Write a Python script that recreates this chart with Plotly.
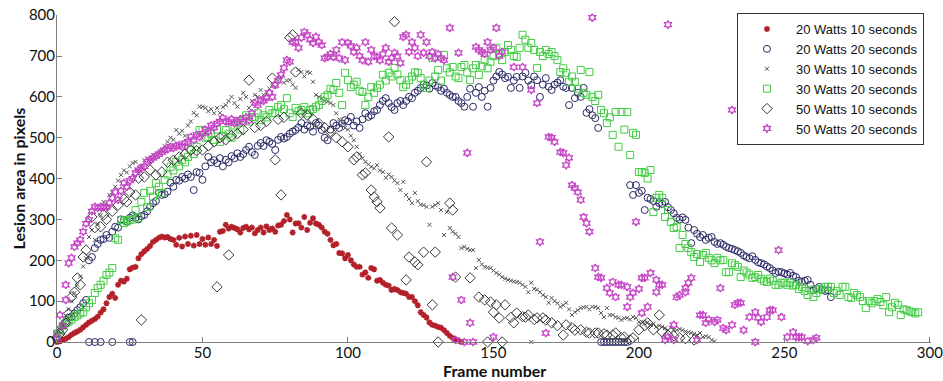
import plotly.graph_objects as go

# ---------------- data ----------------
series_names = ["20 Watts 10 seconds", "20 Watts 20 seconds", "30 Watts 10 seconds",
                "30 Watts 20 seconds", "50 Watts 10 seconds", "50 Watts 20 seconds"]

x_ticks = [0, 50, 100, 150, 200, 250, 300]
y_ticks = [0, 100, 200, 300, 400, 500, 600, 700, 800]

x_title = "Frame number"
y_title = "Lesion area in pixels"

# 20 W 10 s, frames 0..139
w20s10_start = 0
w20s10_area = [
    0, 2, 5, 8, 12, 18, 22, 26, 30, 36,
    42, 48, 52, 56, 62, 72, 80, 95, 110, 118,
    108, 140, 150, 148, 155, 178, 182, 184, 205, 215,
    222, 228, 235, 245, 250, 255, 258, 256, 257, 252,
    250, 238, 255, 234, 258, 240, 260, 236, 262, 240,
    252, 238, 256, 240, 250, 235, 270, 272, 287, 278,
    282, 279, 276, 268, 279, 282, 276, 280, 266, 274,
    280, 268, 283, 274, 278, 270, 285, 287, 296, 311,
    300, 268, 290, 291, 280, 306, 274, 292, 303, 290,
    287, 280, 270, 265, 250, 237, 240, 218, 217, 205,
    213, 200, 190, 184, 184, 165, 170, 157, 181, 178,
    150, 152, 145, 140, 138, 127, 130, 127, 122, 120,
    118, 110, 110, 100, 90, 73, 66, 60, 48, 42,
    40, 37, 35, 29, 22, 15, 10, 5, 3, 0]

# 20 W 20 s, frames 0..266
w20s20_start = 0
w20s20_area = [
    20, 30, 40, 50, 59, 62, 70, 78, 85, 95,
    103, 200, 208, 230, 240, 250, 252, 262, 255, 270,
    282, 280, 300, 299, 295, 304, 310, 304, 300, 308,
    311, 320, 331, 340, 345, 365, 360, 362, 368, 390,
    380, 397, 395, 404, 400, 410, 404, 372, 416, 414,
    397, 430, 453, 440, 445, 438, 450, 430, 446, 440,
    455, 450, 462, 453, 460, 470, 478, 465, 458, 480,
    487, 480, 494, 490, 485, 470, 495, 502, 498, 502,
    510, 515, 519, 525, 536, 520, 530, 527, 515, 536,
    530, 519, 500, 494, 520, 536, 530, 524, 535, 543,
    540, 551, 530, 540, 524, 545, 560, 551, 555, 565,
    568, 580, 590, 597, 585, 575, 568, 585, 590, 580,
    590, 600, 597, 610, 615, 622, 630, 628, 620, 634,
    628, 624, 615, 620, 610, 605, 600, 600, 590, 585,
    576, 600, 620, 576, 610, 624, 600, 615, 576, 622,
    640, 650, 661, 655, 646, 649, 622, 640, 649, 622,
    650, 659, 640, 629, 650, 641, 600, 630, 646, 625,
    617, 630, 635, 641, 625, 622, 580, 622, 597, 610,
    600, 622, 561, 570, 555, 548, 524,
    0, 0, 0, 0, 0, 0, 0, 0, 0, 0,
    384, 360, 384, 365, 370, 323, 353, 350, 345, 331, 340, 338, 343,
    330, 323, 315, 304, 300, 305, 299, 280, 242, 274,
    265, 257, 262, 250, 255, 257, 245, 240, 242, 238,
    233, 230, 228, 225, 222, 218, 212, 208, 205, 210,
    201, 195, 193, 190, 185, 181, 175, 169, 172, 171,
    168, 165, 169, 162, 159, 150, 147, 150, 152, 140,
    127, 130, 135, 128, 125, 127, 110]
w20s20_extra_frame = [11, 13, 15, 19, 25, 26]
w20s20_extra_area = [0, 0, 0, 0, 0, 0]

# 30 W 10 s, frames 0..226
w30s10_start = 0
w30s10_area = [
    25, 35, 50, 65, 80, 100, 120, 140, 160, 185,
    205, 257, 274, 250, 290, 310, 343, 330, 360, 367,
    380, 395, 409, 420, 415, 430, 438, 441, 420, 430,
    445, 450, 440, 458, 455, 463, 470, 480, 490, 500,
    495, 519, 510, 517, 505, 530, 540, 561, 555, 576,
    576, 573, 565, 570, 560, 573, 561, 575, 580, 590,
    600, 585, 576, 595, 610, 600, 573, 590, 605, 600,
    617, 605, 612, 620, 630, 625, 640, 649, 635, 640,
    641, 630, 622, 666, 661, 650, 661, 659, 637, 605,
    600, 597, 590, 588, 585, 580, 560, 545, 535, 524,
    520, 505, 494, 478, 460, 450, 441, 435, 429, 425,
    433, 420, 416, 402, 410, 404, 395, 389, 372, 392,
    360, 350, 340, 365, 345, 336, 335, 331, 287, 331,
    335, 340, 323, 262, 318, 279, 270, 265, 257, 230,
    233, 228, 225, 225, 181, 201, 190, 184, 182, 181,
    175, 169, 165, 159, 155, 152, 150, 148, 147, 145,
    140, 135, 122, 145, 130, 128, 122, 115, 110, 96,
    108, 100, 95, 86, 90, 96, 80, 66, 73, 78,
    83, 85, 86, 80, 86, 86, 83, 71, 61, 83,
    66, 66, 61, 59, 54, 58, 59, 55, 61, 59,
    49, 50, 45, 48, 42, 45, 37, 40, 37, 34,
    29, 35, 30, 29, 32, 29, 26, 24, 22, 20,
    17, 22, 12, 14, 12, 5, 2]
w30s10_extra_frame = [163]
w30s10_extra_area = [0]

# 30 W 20 s, frames 0..296
w30s20_start = 0
w30s20_area = [
    20, 30, 40, 46, 50, 55, 61, 65, 70, 73,
    85, 95, 103, 120, 132, 140, 150, 164, 170, 181,
    254, 250, 299, 291, 295, 299, 300, 323, 304, 343,
    365, 330, 370, 356, 389, 380, 365, 397, 410, 429,
    420, 441, 430, 446, 440, 453, 470, 460, 478, 519,
    519, 500, 502, 510, 495, 520, 490, 505, 519, 510,
    500, 530, 540, 520, 545, 555, 540, 551, 550, 560,
    543, 555, 550, 568, 560, 561, 575, 580, 570, 597,
    560, 551, 573, 565, 568, 575, 560, 568, 570, 576,
    580, 590, 600, 605, 620, 617, 634, 610, 580, 659,
    641, 624, 630, 637, 615, 612, 580, 600, 624, 610,
    622, 630, 654, 640, 659, 650, 671, 655, 641, 624,
    630, 641, 650, 660, 659, 646, 630, 622, 640, 695,
    650, 666, 640, 703, 670, 660, 673, 650, 646, 673,
    678, 660, 641, 670, 678, 654, 675, 690, 670, 686,
    700, 720, 705, 690, 710, 727, 715, 700, 698, 720,
    752, 740, 720, 732, 715, 671, 710, 700, 715, 705,
    710, 700, 690, 661, 670, 659, 637, 650, 637, 620,
    666, 610, 605, 661, 600, 590, 605, 568, 560, 536,
    550, 507, 563, 478, 563, 520, 563, 458, 512, 507,
    416, 416, 414, 400, 421, 318, 353, 360, 353, 306,
    323, 294, 279, 282, 230, 262, 240, 230, 220, 208,
    215, 196, 213, 218, 206, 200, 193, 206, 200, 201,
    171, 171, 193, 188, 184, 159, 175, 170, 165, 157,
    159, 164, 155, 150, 147, 155, 150, 140, 140, 145,
    145, 140, 145, 138, 140, 130, 135, 125, 115, 128,
    110, 120, 130, 128, 135, 135, 135, 120, 125, 115,
    135, 135, 110, 108, 120, 115, 110, 100, 83, 100,
    95, 100, 105, 98, 90, 110, 73, 85, 96, 91,
    66, 80, 78, 75, 73, 70, 73]

# 50 W 10 s (irregular frames)
w50s10_frame = [0, 1, 2, 3, 4, 5, 6, 7, 8, 9, 10, 12, 13, 15, 16, 17, 19, 21, 23, 24,
                25, 27, 28, 29, 30, 32, 34, 36, 38, 40, 42, 44, 46, 48, 50, 52, 54, 55, 56, 58,
                59, 60, 62, 64, 66, 68, 70, 72, 74, 75, 76, 77, 78, 80, 81, 82, 84, 86, 88, 90,
                92, 94, 96, 98, 100, 102, 103, 105, 106, 108, 109, 110, 111, 114, 115, 116, 117, 120, 121, 123,
                124, 126, 127, 129, 130, 131, 135, 136, 137, 142, 145, 147, 148, 149, 150, 151, 152, 153, 154, 156,
                157, 158, 160, 161, 162, 164, 165, 167, 168, 170, 172, 174, 175, 177, 178, 180, 182, 183, 185, 186,
                188, 189, 191, 192, 194, 195, 197, 198, 200, 202, 203, 205, 207, 208, 210, 212, 214, 216, 219]
w50s10_area = [10, 20, 30, 46, 70, 110, 122, 157, 140, 208, 225, 306, 280, 282, 311, 300, 320, 335, 350, 343,
               367, 360, 401, 54, 404, 421, 409, 416, 440, 445, 453, 460, 470, 468, 470, 480, 490, 135, 500, 495,
               213, 505, 510, 520, 641, 525, 530, 540, 646, 446, 545, 360, 550, 745, 752, 661, 560, 555, 545, 535,
               525, 515, 500, 490, 478, 446, 453, 409, 414, 372, 355, 343, 328, 502, 279, 784, 262, 152, 208, 196,
               189, 220, 441, 91, 220, 0, 340, 323, 159, 157, 110, 103, 0, 98, 73, 91, 59, 0, 91, 60,
               47, 71, 62, 61, 66, 55, 59, 59, 54, 47, 40, 17, 42, 35, 29, 30, 24, 22, 22, 22,
               20, 17, 17, 22, 10, 12, 5, 10, 30, 40, 47, 30, 66, 25, 17, 15, 10, 8, 5]

# 50 W 20 s (irregular frames)
w50s20_frame = [0, 1, 2, 3, 3, 4, 5, 6, 7, 8, 9, 10, 11, 12, 13, 14, 15, 16, 17, 18,
                19, 20, 21, 22, 23, 24, 25, 26, 27, 28, 29, 30, 31, 32, 33, 34, 35, 36, 37, 38,
                39, 40, 41, 42, 43, 44, 45, 46, 47, 48, 49, 50, 51, 52, 53, 54, 55, 56, 57, 58,
                59, 60, 61, 62, 63, 64, 65, 66, 67, 68, 69, 70, 71, 72, 73, 74, 75, 76, 77, 78,
                79, 80, 81, 82, 83, 84, 85, 86, 87, 88, 89, 90, 91, 92, 93, 94, 95, 96, 97, 98,
                99, 100, 101, 102, 103, 104, 105, 106, 107, 108, 109, 110, 111, 112, 113, 114, 115, 116, 117, 118,
                119, 120, 121, 122, 123, 124, 125, 126, 127, 128, 129, 130, 131, 132, 133, 135, 136, 137, 138, 139,
                140, 141, 142, 143, 144, 145, 146, 147, 148, 149, 150, 150, 151, 152, 153, 157, 160, 163, 165, 166,
                168, 169, 170, 171, 173, 174, 175, 176, 177, 178, 179, 180, 181, 182, 183, 184, 185, 186, 187, 189,
                190, 191, 192, 193, 194, 196, 196, 197, 198, 199, 200, 201, 201, 202, 203, 204, 206, 206, 207, 208,
                209, 210, 210, 212, 212, 213, 214, 216, 216, 217, 218, 220, 221, 222, 223, 224, 226, 227, 228, 229,
                230, 232, 232, 233, 234, 235, 236, 238, 240, 240, 241, 242, 244, 245, 246, 248, 249, 251, 253, 254,
                255, 256, 258, 260, 261]
w50s20_area = [10, 66, 40, 103, 140, 193, 206, 233, 242, 250, 270, 290, 299, 320, 331, 328, 331, 330, 331, 340,
               353, 367, 348, 370, 389, 380, 395, 400, 414, 421, 426, 430, 441, 445, 451, 455, 460, 465, 470, 472,
               478, 475, 480, 482, 478, 487, 490, 502, 495, 507, 502, 510, 520, 515, 530, 525, 535, 540, 548, 540,
               539, 545, 535, 539, 545, 539, 550, 543, 560, 585, 580, 592, 590, 597, 610, 600, 629, 640, 654, 671,
               690, 686, 734, 734, 720, 745, 759, 752, 740, 732, 747, 734, 727, 695, 698, 705, 698, 715, 695, 734,
               690, 732, 725, 710, 720, 700, 690, 734, 686, 715, 700, 698, 690, 705, 720, 686, 695, 708, 700, 683,
               747, 752, 710, 734, 720, 700, 752, 708, 734, 700, 710, 695, 705, 695, 690, 769, 159, 5, 708, 103,
               0, 463, 47, 0, 722, 715, 710, 705, 734, 715, 720, 12, 769, 700, 710, 673, 673, 617, 585, 245,
               22, 502, 500, 490, 465, 463, 433, 451, 384, 377, 367, 348, 306, 291, 270, 794, 181, 159, 157, 132,
               120, 147, 110, 140, 140, 135, 86, 110, 120, 294, 130, 157, 71, 157, 86, 169, 152, 122, 140, 140,
               5, 777, 12, 42, 5, 110, 115, 122, 132, 145, 157, 5, 66, 66, 47, 55, 49, 54, 132, 34,
               29, 42, 568, 91, 96, 96, 29, 61, 73, 0, 59, 49, 61, 78, 78, 225, 61, 12, 24, 12,
               12, 12, 2, 5, 10]

# ---------------- figure ----------------
def frames_from(start, values):
    return list(range(start, start + len(values)))

fig = go.Figure()

fig.add_trace(go.Scatter(
    x=frames_from(w20s10_start, w20s10_area), y=w20s10_area, mode="markers",
    name=series_names[0], cliponaxis=False,
    marker=dict(symbol="asterisk-open", size=5, color="#b3202a",
                line=dict(color="#b3202a", width=1.6))))

fig.add_trace(go.Scatter(
    x=frames_from(w20s20_start, w20s20_area) + w20s20_extra_frame,
    y=w20s20_area + w20s20_extra_area, mode="markers",
    name=series_names[1], cliponaxis=False,
    marker=dict(symbol="circle-open", size=7, color="#2a2a66",
                line=dict(color="#2a2a66", width=1))))

fig.add_trace(go.Scatter(
    x=frames_from(w30s10_start, w30s10_area) + w30s10_extra_frame,
    y=w30s10_area + w30s10_extra_area, mode="markers",
    name=series_names[2], cliponaxis=False,
    marker=dict(symbol="x-thin-open", size=4, color="#555555",
                line=dict(color="#555555", width=1))))

fig.add_trace(go.Scatter(
    x=frames_from(w30s20_start, w30s20_area), y=w30s20_area, mode="markers",
    name=series_names[3], cliponaxis=False,
    marker=dict(symbol="square-open", size=7, color="#44cc44",
                line=dict(color="#44cc44", width=1))))

fig.add_trace(go.Scatter(
    x=w50s10_frame, y=w50s10_area, mode="markers",
    name=series_names[4], cliponaxis=False,
    marker=dict(symbol="diamond-open", size=8, color="#3a3a3a",
                line=dict(color="#3a3a3a", width=1))))

fig.add_trace(go.Scatter(
    x=w50s20_frame, y=w50s20_area, mode="markers",
    name=series_names[5], cliponaxis=False,
    marker=dict(symbol="hexagram-open", size=6, color="#c545c5",
                line=dict(color="#c545c5", width=1.3))))

tick_font = dict(family="Lato, Liberation Sans, Arial, sans-serif", size=15, color="#111111")
title_font = dict(family="Lato, Liberation Sans, Arial, sans-serif", size=16, color="#111111")

fig.update_layout(
    width=943, height=381,
    margin=dict(l=57, r=12, t=15, b=39, autoexpand=False),
    paper_bgcolor="white", plot_bgcolor="white",
    showlegend=True,
    legend=dict(x=0.778, y=1.006, xanchor="left", yanchor="top",
                bgcolor="white", bordercolor="#333333", borderwidth=1,
                itemwidth=48,
                font=dict(family="Liberation Sans, Arial, sans-serif", size=13, color="#111111"),
                tracegroupgap=0),
    xaxis=dict(range=[0, 300.4], tickvals=x_ticks, ticktext=[str(v) for v in x_ticks],
               showgrid=False, zeroline=False, showline=True, linecolor="#7f7f7f", linewidth=1,
               ticks="inside", ticklen=5, tickcolor="#7f7f7f", automargin=False,
               ticklabeloverflow="allow", ticklabelstandoff=-3,
               tickfont=tick_font),
    yaxis=dict(range=[0, 800.5], tickvals=y_ticks, ticktext=[str(v) for v in y_ticks],
               showgrid=False, zeroline=False, showline=True, linecolor="#7f7f7f", linewidth=1,
               ticks="inside", ticklen=5, tickcolor="#7f7f7f", automargin=False,
               ticklabeloverflow="allow", ticklabelstandoff=-2,
               tickfont=tick_font),
    annotations=[
        dict(text="<b>" + x_title + "</b>", xref="paper", yref="paper", x=0.5, y=0,
             yshift=-28, xanchor="center", yanchor="middle", showarrow=False,
             font=title_font),
        dict(text="<b>" + y_title + "</b>", xref="paper", yref="paper", x=0, y=0.5,
             xshift=-39, xanchor="center", yanchor="middle", textangle=-90, showarrow=False,
             font=title_font),
    ],
)

fig.write_html("out.html",
               config={"displayModeBar": False},
               post_script="document.body.style.margin='0';document.body.style.overflow='hidden';")
